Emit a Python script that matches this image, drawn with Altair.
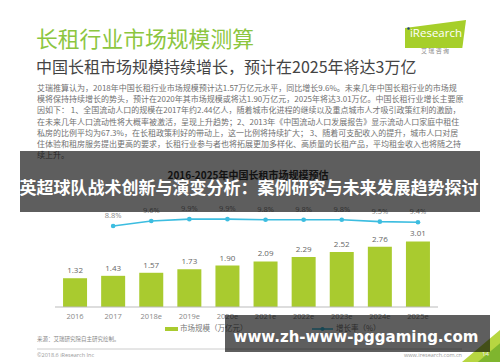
import altair as alt
import pandas as pd

# ---- data ----
years = ["2016", "2017", "2018e", "2019e", "2020e", "2021e", "2022e", "2023e", "2024e", "2025e"]
market = [1.32, 1.43, 1.57, 1.73, 1.90, 2.09, 2.29, 2.52, 2.76, 3.01]
growth_years = ["2017", "2018e", "2019e", "2020e", "2021e", "2022e", "2023e", "2024e", "2025e"]
growth = [8.8, 9.6, 9.9, 9.9, 9.8, 9.8, 9.8, 9.5, 9.4]

title = "长租行业市场规模测算"
subtitle = "中国长租市场规模持续增长，预计在2025年将达3万亿"
paragraph = [
    "艾瑞推算认为，2018年中国长租行业市场规模预计达1.57万亿元水平，同比增长9.6%。未来几年中国长租行业的市场规",
    "模将保持持续增长的势头，预计在2020年其市场规模或将达1.90万亿元，2025年将达3.01万亿。中国长租行业增长主要原",
    "因如下： 1、全国流动人口的规模在2017年约2.44亿人，随着城市化进程的继续以及重点城市人才吸引政策红利的激励，",
    "在未来几年人口流动性将大概率被激活，呈现上升趋势；2、2013年《中国流动人口发展报告》显示流动人口家庭中租住",
    "私房的比例平均为67.3%，在长租政策利好的带动上，这一比例将持续扩大； 3、随着可支配收入的提升，城市人口对居",
    "住体验和租房服务提出更高的要求，长租行业参与者也将拓展更加多样化、高质量的长租产品，平均租金收入也将随之持",
    "续上升。",
]
chart_title = "2016-2025年中国长租市场规模预估"
legend_bar = "市场规模（万亿元）"
legend_line = "增长率（%）"
source = "来源：艾瑞研究院自主研究绘制。"
copyright_txt = "©2018.6 iResearch Inc"
site_txt = "www.iresearch.com.cn"
page_no = "14"
overlay1 = "英超球队战术创新与演变分析：案例研究与未来发展趋势探讨"
overlay2 = "www.zh-www-pggaming.com"

CJK = "Noto Sans CJK SC"
GREEN = "#a9cb2f"
CYAN = "#3cbde0"

bars_df = pd.DataFrame({"year": years, "value": market})
line_df = pd.DataFrame({"year": growth_years, "rate": growth,
                        "label": [f"{g}%" for g in growth]})
one = alt.Data(values=[{"k": 0}])

xs = alt.X("year:N", sort=years,
           scale=alt.Scale(domain=years, range=[56, 437], paddingInner=0.37, paddingOuter=0.185),
           axis=None)
ybar = alt.Y("value:Q", scale=alt.Scale(domain=[0, 10], range=[307, 89]), axis=None)
yline = alt.Y("rate:Q", scale=alt.Scale(domain=[8, 10], range=[231, 218.5]), axis=None)


def txt(text, x, y, size, color, weight="normal", align="left", font=CJK, **kw):
    return alt.Chart(one).mark_text(text=text, fontSize=size, color=color, fontWeight=weight,
                                    align=align, baseline="middle", font=font, **kw).encode(
        x=alt.value(x), y=alt.value(y))


def rule(x1, x2, y, color, width=1):
    return alt.Chart(one).mark_rule(color=color, strokeWidth=width).encode(
        x=alt.value(x1), x2=alt.value(x2), y=alt.value(y))


# header
t_title = txt(title, 36, 40, 21.8, "#8cc63f")
t_sub = txt(subtitle, 36, 68, 16, "#444444")
logo = alt.Chart(one).mark_point(
    shape="M -1 -0.2 L 1 -0.46 L 0.88 0.46 L -1 0.46 Z", filled=True, opacity=1,
    color="#a6cf2a", size=3721).encode(x=alt.value(435.5), y=alt.value(34))
logo_t = txt("iResearch", 436, 34, 11.5, "white", align="center", font="Open Sans")
logo_dot = alt.Chart(one).mark_point(filled=True, color="#1f3c7a", size=6, opacity=1).encode(
    x=alt.value(408.5), y=alt.value(28.5))
logo_cn = txt("艾  瑞  咨  询", 435, 51, 6, "#888888", align="center")
para = alt.Chart(one).mark_text(text=paragraph, fontSize=8, color="#707070", align="left",
                                baseline="middle", font=CJK, lineHeight=11.2).encode(
    x=alt.value(37), y=alt.value(89))

# chart
t_ctitle = txt(chart_title, 248, 176, 10, "#333333", weight="bold", align="center")
bars = alt.Chart(bars_df).mark_bar(color=GREEN).encode(x=xs, y=ybar)
bar_lbl = alt.Chart(bars_df).mark_text(dy=-7, fontSize=8, color="#666666", font="Open Sans").encode(
    x=xs, y=ybar, text=alt.Text("value:Q", format=".2f"))
line = alt.Chart(line_df).mark_line(color=CYAN, strokeWidth=1.6).encode(x=xs, y=yline)
pts = alt.Chart(line_df).mark_point(color=CYAN, filled=True, opacity=1, size=22).encode(x=xs, y=yline)
line_lbl = alt.Chart(line_df).mark_text(dy=-10, fontSize=7.5, color="#888888", font="Open Sans").encode(
    x=xs, y=yline, text="label:N")
axis_line = rule(55, 438, 307, "#bbbbbb")
xlab = alt.Chart(bars_df).mark_text(fontSize=7.5, color="#888888", font="Open Sans", baseline="middle").encode(
    x=xs, y=alt.value(317), text="year:N")

# legend
leg_rect = alt.Chart(one).mark_rect(color=GREEN).encode(
    x=alt.value(165), x2=alt.value(178), y=alt.value(327), y2=alt.value(331))
leg_bar_t = txt(legend_bar, 180, 329, 7.5, "#777777")
leg_line = rule(312, 333, 329, CYAN, 1.5)
leg_pt = alt.Chart(one).mark_point(color=CYAN, filled=True, opacity=1, size=16).encode(
    x=alt.value(322.5), y=alt.value(329))
leg_line_t = txt(legend_line, 336, 329, 7.5, "#777777")

# footer
t_src = txt(source, 37, 339, 5.5, "#888888")
foot_line = rule(37, 462, 349, "#cccccc")
t_copy = txt(copyright_txt, 37, 354.5, 5.5, "#999999", font="Open Sans")
t_site = txt(site_txt, 462, 354.5, 5.5, "#999999", align="right", font="Open Sans")
tri = alt.Chart(one).mark_point(shape="M -1 0.84 L 1 -0.84 L 1 0.84 Z", filled=True, opacity=1,
                                color="#b7d641", size=1444).encode(x=alt.value(481), y=alt.value(346))
tri2 = alt.Chart(one).mark_point(shape="M -1 0.84 L 1 -0.84 L 1 0.84 Z", filled=True, opacity=1,
                                 color="#7fb52e", size=500).encode(x=alt.value(489), y=alt.value(352.5))
t_page = txt(page_no, 482, 354, 6, "#eeeeee", font="Open Sans")

# overlays
ov1 = alt.Chart(one).mark_rect(color="black", opacity=0.63).encode(
    x=alt.value(20), x2=alt.value(480), y=alt.value(151), y2=alt.value(212))
ov1_t = txt(overlay1, 249, 189, 17, "white", weight="bold", align="center")
ov2 = alt.Chart(one).mark_rect(color="black", opacity=0.63).encode(
    x=alt.value(225), x2=alt.value(490), y=alt.value(315), y2=alt.value(352))
ov2_t = txt(overlay2, 356, 337, 15, "white", weight="bold", align="center", font="DejaVu Sans")

chart = alt.layer(
    t_title, t_sub, logo, logo_t, logo_dot, logo_cn, para,
    t_ctitle, bars, bar_lbl, line, pts, line_lbl, axis_line, xlab,
    leg_rect, leg_bar_t, leg_line, leg_pt, leg_line_t,
    t_src, foot_line, t_copy, t_site, tri, tri2, t_page,
    ov1, ov1_t, ov2, ov2_t,
).resolve_scale(y="independent").properties(
    width=500, height=362, autosize=alt.AutoSizeParams(type="none"), padding=0, background="white"
).configure_view(stroke=None)

chart.save("out.html", embed_options={"renderer": "svg", "actions": False})
